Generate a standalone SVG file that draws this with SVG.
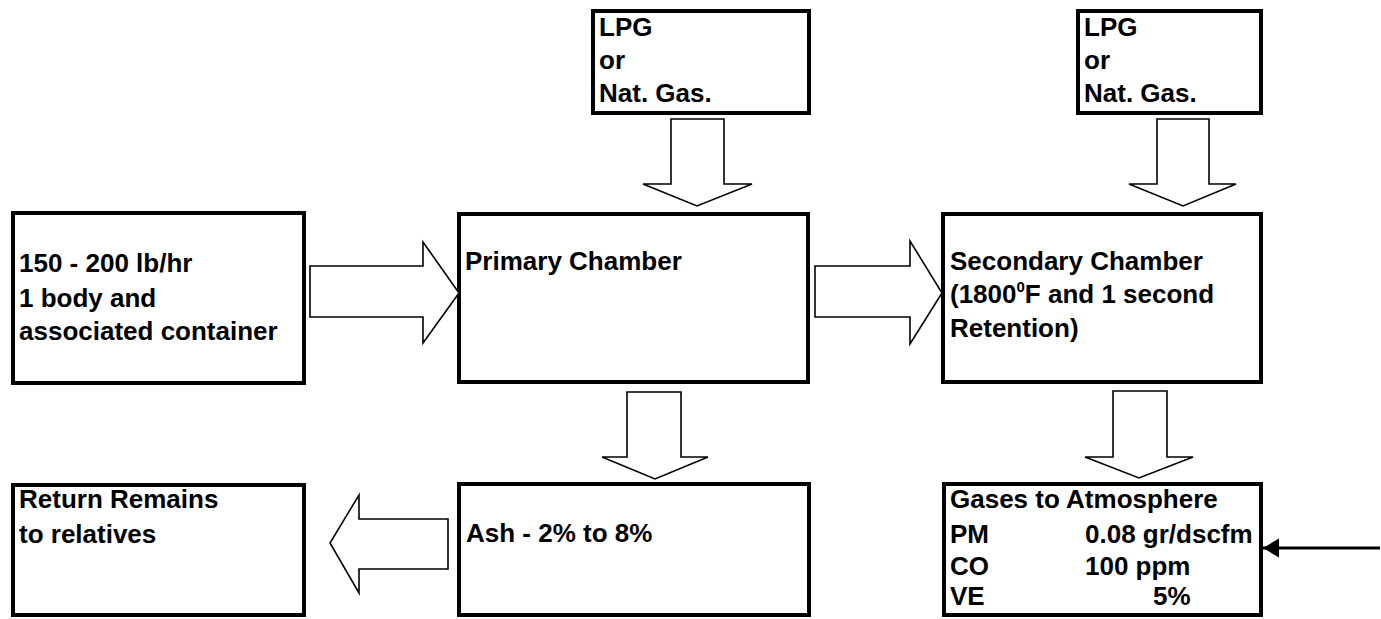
<svg xmlns="http://www.w3.org/2000/svg" width="1381" height="619" viewBox="0 0 1381 619">
<defs>
<style>
.box{fill:#fff;stroke:#000;stroke-width:4}
.arr{fill:#fff;stroke:#000;stroke-width:1.6;stroke-linejoin:miter}
text{font-family:"Liberation Sans",Arial,sans-serif;font-weight:bold;font-size:26px;fill:#000}
.ln{stroke:#000;stroke-width:3;fill:none}
</style>
<marker id="ah" markerWidth="18" markerHeight="20" refX="16" refY="10" orient="auto" markerUnits="userSpaceOnUse">
<path d="M0,0.5 L16,10 L0,19.5 Z" fill="#000"/>
</marker>
</defs>
<rect width="1381" height="619" fill="#fff"/>
<g id="input">
<rect class="box" x="13" y="213" width="291" height="170"/>
<text x="19" y="272">150 - 200 lb/hr</text>
<text x="19" y="307">1 body and</text>
<text x="19" y="340">associated container</text>
</g>
<g id="lpg1">
<rect class="box" x="593" y="11" width="216" height="102"/>
<text x="599" y="36">LPG</text>
<text x="599" y="69">or</text>
<text x="599" y="102">Nat. Gas.</text>
</g>
<g id="lpg2">
<rect class="box" x="1078" y="11" width="183" height="102"/>
<text x="1084" y="36">LPG</text>
<text x="1084" y="69">or</text>
<text x="1084" y="102">Nat. Gas.</text>
</g>
<g id="primary">
<rect class="box" x="459" y="214" width="349" height="168"/>
<text x="465" y="270">Primary Chamber</text>
</g>
<g id="secondary">
<rect class="box" x="943" y="214" width="318" height="168"/>
<text x="950" y="270">Secondary Chamber</text>
<text x="950" y="303">(1800<tspan font-size="15" dy="-11">0</tspan><tspan dy="11">F and 1 second</tspan></text>
<text x="950" y="337">Retention)</text>
</g>
<g id="ash">
<rect class="box" x="459" y="484" width="350" height="131"/>
<text x="466" y="542">Ash - 2% to 8%</text>
</g>
<g id="return">
<rect class="box" x="13" y="485" width="291" height="130"/>
<text x="19" y="508">Return Remains</text>
<text x="19" y="543">to relatives</text>
</g>
<g id="gases">
<rect class="box" x="944" y="484" width="317" height="131"/>
<text x="950" y="508">Gases to Atmosphere</text>
<text x="950" y="543">PM</text>
<text x="1085" y="543">0.08 gr/dscfm</text>
<text x="950" y="575">CO</text>
<text x="1085" y="575">100 ppm</text>
<text x="950" y="605">VE</text>
<text x="1153" y="605">5%</text>
</g>
<g id="connectors">
<polygon class="arr" points="310,266 423,266 423,242 459,293 423,343 423,317 310,317"/>
<polygon class="arr" points="815,266 910,266 910,241 942,293 910,344 910,317 815,317"/>
<polygon class="arr" points="671,119 724,119 724,184 752,184 697,206 643,184 671,184"/>
<polygon class="arr" points="1157,119 1209,119 1209,184 1236,184 1183,206 1129,184 1157,184"/>
<polygon class="arr" points="627,392 681,392 681,457 708,457 655,479 602,457 627,457"/>
<polygon class="arr" points="1113,391 1167,391 1167,457 1193,457 1139,478 1085,457 1113,457"/>
<polygon class="arr" points="448,519 359,519 359,495 330,543 359,593 359,569 448,569"/>
<line class="ln" x1="1380" y1="548" x2="1263" y2="548" marker-end="url(#ah)"/>
</g>
</svg>
